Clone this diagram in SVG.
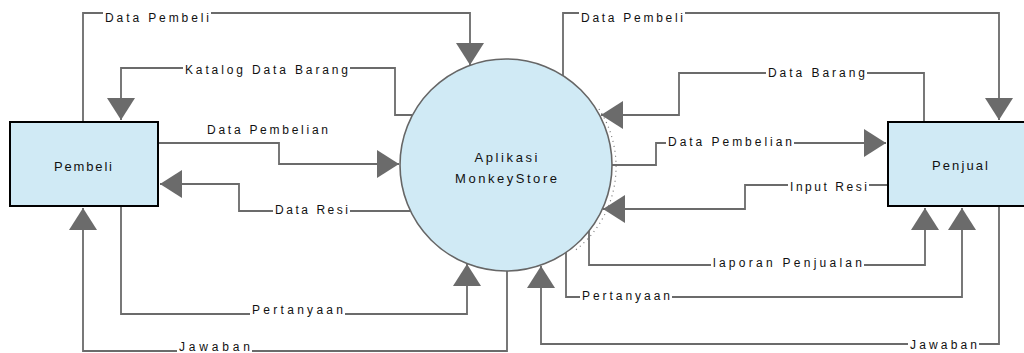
<svg xmlns="http://www.w3.org/2000/svg" width="1024" height="353" viewBox="0 0 1024 353">
  <style>
    .box { fill: #d0eaf5; stroke: #000; stroke-width: 2; }
    .proc { fill: #d0eaf5; stroke: #666; stroke-width: 1.6; }
    .wire { fill: none; stroke: #6b6b6b; stroke-width: 1.8; marker-end: url(#arr); }
    .lbl { font-family: "Liberation Sans", Arial, sans-serif; font-size: 12px; fill: #111; }
    .ntxt { font-family: "Liberation Sans", Arial, sans-serif; font-size: 13px; fill: #111; text-anchor: middle; }
    .bg { fill: #fff; }
  </style>
  <defs>
    <marker id="arr" markerUnits="userSpaceOnUse" markerWidth="24" markerHeight="30" refX="22" refY="14" orient="auto">
      <path d="M0,0 L22,14 L0,28 Z" fill="#6b6b6b"/>
    </marker>
  </defs>
  <rect width="1024" height="353" fill="#fff"/>

  <g id="connectors">
    <!-- left side -->
    <path class="wire" d="M83,122 V13 H470 V65"/>
    <path class="wire" d="M412,115 H395 V68 H121 V120"/>
    <path class="wire" d="M158,143 H279 V164 H399"/>
    <path class="wire" d="M410,211 H239 V184 H160"/>
    <path class="wire" d="M121,206 V314 H467 V264"/>
    <path class="wire" d="M507,271 V351 H83 V208"/>
    <!-- right side -->
    <path class="wire" d="M563,76 V13 H999 V120"/>
    <path class="wire" d="M924,122 V73 H679 V115 H601"/>
    <path class="wire" d="M612,165 H656 V143 H886"/>
    <path class="wire" d="M888,185 H745 V209 H603"/>
    <path class="wire" d="M589,231 V265 H925 V208"/>
    <path class="wire" d="M566,252 V297 H962 V208"/>
    <path class="wire" d="M999,206 V344 H541 V266"/>

    <!-- label backgrounds -->
    <rect class="bg" x="103" y="8" width="108" height="16"/>
    <rect class="bg" x="183" y="62" width="167" height="17"/>
    <rect class="bg" x="273" y="202" width="77" height="15"/>
    <rect class="bg" x="250" y="304" width="95" height="15"/>
    <rect class="bg" x="177" y="340" width="75" height="13"/>
    <rect class="bg" x="579" y="8" width="106" height="16"/>
    <rect class="bg" x="766" y="66" width="101" height="15"/>
    <rect class="bg" x="666" y="134" width="128" height="15"/>
    <rect class="bg" x="788" y="179" width="81" height="17"/>
    <rect class="bg" x="711" y="256" width="153" height="15"/>
    <rect class="bg" x="580" y="289" width="92" height="15"/>
    <rect class="bg" x="908" y="337" width="71" height="15"/>

    <!-- labels -->
    <text class="lbl" x="105" y="22" textLength="104" lengthAdjust="spacing">Data Pembeli</text>
    <text class="lbl" x="185" y="74" textLength="163" lengthAdjust="spacing">Katalog Data Barang</text>
    <text class="lbl" x="207" y="134" textLength="121" lengthAdjust="spacing">Data Pembelian</text>
    <text class="lbl" x="275" y="214" textLength="73" lengthAdjust="spacing">Data Resi</text>
    <text class="lbl" x="252" y="314" textLength="91" lengthAdjust="spacing">Pertanyaan</text>
    <text class="lbl" x="179" y="351" textLength="71" lengthAdjust="spacing">Jawaban</text>
    <text class="lbl" x="581" y="22" textLength="102" lengthAdjust="spacing">Data Pembeli</text>
    <text class="lbl" x="768" y="77" textLength="97" lengthAdjust="spacing">Data Barang</text>
    <text class="lbl" x="668" y="146" textLength="124" lengthAdjust="spacing">Data Pembelian</text>
    <text class="lbl" x="790" y="191" textLength="77" lengthAdjust="spacing">Input Resi</text>
    <text class="lbl" x="713" y="267" textLength="149" lengthAdjust="spacing">laporan Penjualan</text>
    <text class="lbl" x="582" y="300" textLength="88" lengthAdjust="spacing">Pertanyaan</text>
    <text class="lbl" x="910" y="349" textLength="67" lengthAdjust="spacing">Jawaban</text>
  </g>

  <g id="pembeli">
    <rect class="box" x="10" y="122" width="148" height="84"/>
    <text class="ntxt" x="83" y="171" textLength="58" lengthAdjust="spacing">Pembeli</text>
  </g>

  <g id="aplikasi">
    <circle class="proc" cx="506" cy="165" r="106"/>
    <path d="M596,109 A106,106 0 0 1 570,252" fill="none" stroke="#777" stroke-width="1.2" stroke-dasharray="1 4" transform="translate(3,0)"/>
    <text class="ntxt" x="506" y="162" textLength="63" lengthAdjust="spacing">Aplikasi</text>
    <text class="ntxt" x="506" y="183" textLength="102" lengthAdjust="spacing">MonkeyStore</text>
  </g>

  <g id="penjual">
    <rect class="box" x="888" y="122" width="148" height="84"/>
    <text class="ntxt" x="960" y="170" textLength="56" lengthAdjust="spacing">Penjual</text>
  </g>
</svg>
